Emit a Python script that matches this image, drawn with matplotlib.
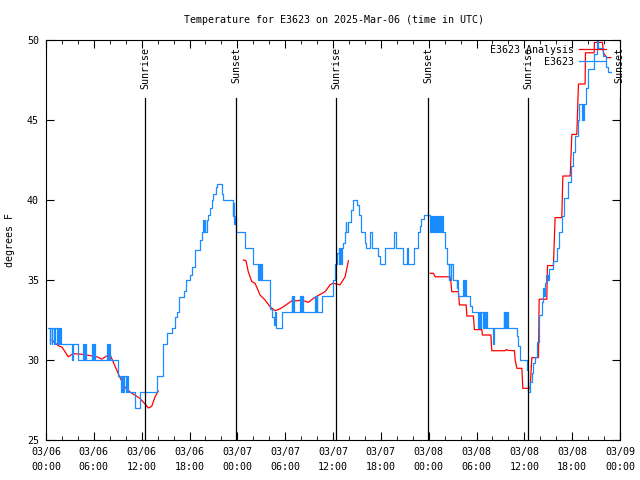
import matplotlib
matplotlib.use('Agg')
import matplotlib.pyplot as plt
import matplotlib.dates as mdates
import numpy as np
import pandas as pd

start = pd.Timestamp('2025-03-06 00:00')

# station readings (hours after start, deg F), drawn as steps
obs_hours = [0.25, 0.45, 0.55, 0.70, 0.80, 1.0, 1.15, 1.35, 1.45, 1.65, 1.75, 1.9,
             3.2, 3.35, 4.0, 4.6, 4.75, 4.9, 5.05, 5.75, 5.85, 6.0, 6.1, 7.6, 7.75, 7.9, 8.05,
             9.0, 9.4, 9.5, 9.7, 9.8, 10.0, 10.1, 10.3, 11.2, 11.8, 13.9, 14.7, 15.2,
             15.85, 16.19, 16.4, 16.73, 17.35, 17.57, 18.07, 18.28, 18.7, 19.32, 19.53,
             19.7, 19.8, 19.9, 20.0, 20.2, 20.37, 20.58, 20.79, 21.0, 21.29, 21.42, 22.04,
             22.25, 23.42, 23.5, 23.6, 23.7, 23.8, 25.0, 26.0, 26.6, 26.75, 26.85, 26.95,
             27.05, 28.1, 28.36, 28.6, 28.75, 28.85, 29.6, 30.8, 30.9, 31.0, 31.1, 31.9,
             32.0, 32.1, 32.2, 33.75, 33.85, 33.95, 34.05, 34.6, 36.05, 36.3, 36.45, 36.7,
             36.8, 36.9, 37.0, 37.1, 37.3, 37.5, 37.6, 37.65, 37.9, 38.2, 38.56, 38.98,
             39.27, 39.52, 40.0, 40.1, 40.65, 40.86, 41.7, 41.9, 42.5, 43.7, 43.9, 44.8,
             45.3, 45.45, 46.1, 46.7, 46.9, 47.1, 47.45, 48.2, 48.3, 48.45, 48.55, 48.7,
             48.8, 48.95, 49.0, 49.1, 49.2, 49.35, 49.45, 49.6, 49.7, 49.85, 50.0, 50.3,
             50.5, 50.6, 50.75, 50.85, 51.0, 51.5, 51.6, 51.7, 52.35, 52.45, 52.6, 52.7,
             53.2, 53.4, 54.2, 54.3, 54.5, 54.6, 54.8, 54.9, 55.1, 55.2, 55.3, 56.1, 56.2,
             57.4, 57.5, 57.6, 57.7, 57.8, 58.0, 59.05, 59.26, 59.5, 60.3, 60.5, 60.73,
             60.94, 61.1, 61.35, 61.57, 61.9, 62.2, 62.4, 62.5, 62.6, 62.7, 63.0, 63.1,
             63.65, 64.1, 64.3, 64.7, 65.0, 65.5, 65.8, 66.1, 66.4, 66.7, 66.9, 67.2,
             67.3, 67.4, 67.5, 67.75, 68.0, 68.7, 69.1, 69.3, 69.9, 70.3, 70.55, 70.9]
obs_temp = [32, 31, 32, 31, 32, 31, 32, 31, 32, 31, 32, 31,
            30, 31, 30, 31, 30, 31, 30, 31, 30, 31, 30, 31, 30, 31, 30,
            29, 28, 29, 28, 29, 28, 29, 28, 27, 28, 29, 31, 31.7,
            32.0, 32.7, 33.0, 33.96, 34.3, 35.0, 35.3, 35.8, 36.9, 37.5, 38.0,
            38.75, 38.0, 38.75, 38.0, 38.75, 39.06, 39.5, 40.0, 40.4, 40.8, 41.0, 40.4,
            40.0, 39.0, 39.8, 38.5, 39.0, 38.0, 37, 36, 35, 36, 35, 36,
            35, 33.2, 32.7, 32.2, 33, 32, 33, 34, 33, 34, 33, 34,
            33, 34, 33, 34, 33, 34, 33, 34, 35, 36, 36.7, 37,
            36, 37, 36, 37, 37.3, 38, 38.6, 38, 38.6, 39.4, 40, 39.7,
            39.06, 38, 37.3, 37, 38, 37, 36.5, 36, 37, 38, 37, 36,
            37, 36, 37, 38, 38.4, 38.8, 39.06, 38, 39, 38, 39, 38,
            39, 38, 39, 38, 39, 38, 39, 38, 39, 38, 37, 36,
            35, 36, 35, 36, 35, 34.5, 35, 34, 35, 34, 35, 34,
            33.4, 33, 32, 33, 32, 33, 32, 33, 32, 33, 32, 31, 32,
            33, 32, 33, 32, 33, 32, 31.5, 30.9, 30, 29.4, 28, 28.6,
            29.2, 29.8, 30.2, 31.1, 32.8, 33.6, 34.5, 34, 34.8, 35.3, 35, 35.7,
            36.2, 37, 38, 39, 40.1, 41.1, 42.1, 43, 44, 45, 46, 45,
            46, 45, 46, 47, 48.2, 49.1, 50, 49.5, 49, 48.3, 48, 48]

# analysis series, None marks a gap
ana_hours = [0.75, 1.51, 2.01, 2.80, 3.39, 4.64, 6.40, 6.99, 7.62, 8.03, 8.41, 9.28,
             9.91, 10.54, 11.79, 12.42, 12.84, 13.26, 13.68, 14.09,
             19.0,
             24.76, 25.09, 25.38, 25.81, 26.22, 26.85, 27.48, 28.11, 28.73, 29.36, 29.99,
             30.83, 31.46, 32.08, 32.91, 33.54, 34.38, 35.01, 35.63, 36.01, 36.89, 37.52,
             37.93,
             43.0,
             48.18, 48.6, 48.81, 50.69, 50.78, 50.9, 51.73, 51.86, 52.70, 52.79, 53.61,
             53.74, 54.67, 54.74, 55.80, 55.92, 57.59, 57.72, 57.97, 58.76, 58.85, 59.06,
             59.69, 59.81, 60.73, 60.94, 61.77, 61.86, 62.82, 62.90, 63.65, 63.86, 64.70,
             64.83, 65.75, 65.96, 66.58, 66.79, 67.63, 67.66, 68.76, 68.79, 69.80, 69.92,
             70.35, 70.85]
ana_temp = [31.25, 30.9, 30.8, 30.2, 30.4, 30.35, 30.2, 30.05, 30.25, 30.35, 29.9, 28.9,
            28.3, 28.0, 27.6, 27.25, 27.0, 27.1, 27.7, 28.06,
            None,
            36.25, 36.2, 35.5, 34.9, 34.8, 34.06, 33.75, 33.33, 33.08, 33.2, 33.4,
            33.7, 33.7, 33.75, 33.6, 33.85, 34.1, 34.27, 34.7, 34.8, 34.7, 35.2,
            36.2,
            None,
            35.42, 35.42, 35.2, 35.2, 34.9, 34.27, 34.27, 33.44, 33.44, 32.75, 32.75,
            31.9, 31.9, 31.56, 31.56, 30.58, 30.58, 30.65, 30.6, 30.58, 30.0, 29.48,
            29.48, 28.23, 28.23, 30.15, 30.15, 33.8, 33.8, 35.9, 35.9, 38.9, 38.9,
            41.5, 41.5, 44.1, 44.1, 47.25, 47.25, 49.2, 49.2, 49.85, 49.85, 49.2,
            48.9, 48.9]

sun_hours = [12.42, 23.84, 36.39, 47.93, 60.48, 71.97]
sun_names = ['Sunrise', 'Sunset', 'Sunrise', 'Sunset', 'Sunrise', 'Sunset']

mono = 'DejaVu Sans Mono'
fs = 7.2

obs_t = start + pd.to_timedelta(obs_hours, unit='h')
ana_t = start + pd.to_timedelta(ana_hours, unit='h')
sun_t = start + pd.to_timedelta(sun_hours, unit='h')

fig = plt.figure(figsize=(6.4, 4.8), dpi=100)
ax = fig.add_axes([46/640, 40/480, 574/640, 400/480])

ax.plot(ana_t, np.array(ana_temp, dtype=float), color='#ff0000', lw=0.9, label='E3623 Analysis')
ax.step(obs_t, obs_temp, where='post', color='#1a8cff', lw=0.9, label='E3623')

for t, name in zip(sun_t, sun_names):
    ax.axvline(t, ymin=0, ymax=(46.4-25)/25, color='black', lw=0.9)
    ax.text(t, 49.55, name, rotation=90, ha='center', va='top', fontsize=fs, family=mono)

ax.set_xlim(start, start + pd.Timedelta(hours=72))
ax.set_ylim(25, 50)
ax.set_yticks(range(25, 51, 5))
ax.xaxis.set_major_locator(mdates.HourLocator(byhour=[0, 6, 12, 18]))
ax.xaxis.set_minor_locator(mdates.HourLocator(interval=2))
ax.xaxis.set_major_formatter(mdates.DateFormatter('%m/%d\n%H:%M'))
ax.tick_params(which='both', direction='in', top=True, right=True, labelsize=fs)
ax.tick_params(which='major', length=6, pad=5)
ax.tick_params(which='minor', length=3)
for lab in ax.get_xticklabels() + ax.get_yticklabels():
    lab.set_family(mono)
    lab.set_linespacing(1.65)

leg = ax.legend(loc='upper right', bbox_to_anchor=(0.983, 0.998), frameon=False,
                markerfirst=False, handlelength=2.7, handletextpad=0.5,
                labelspacing=0.2, borderaxespad=0, prop={'family': mono, 'size': fs})

fig.text(334/640, 1 - 20/480, 'Temperature for E3623 on 2025-Mar-06 (time in UTC)',
         ha='center', va='center', fontsize=fs, family=mono)
fig.text(10/640, 0.5, 'degrees F', rotation=90, ha='center', va='center',
         fontsize=fs, family=mono)

fig.savefig('out.png', dpi=100)
